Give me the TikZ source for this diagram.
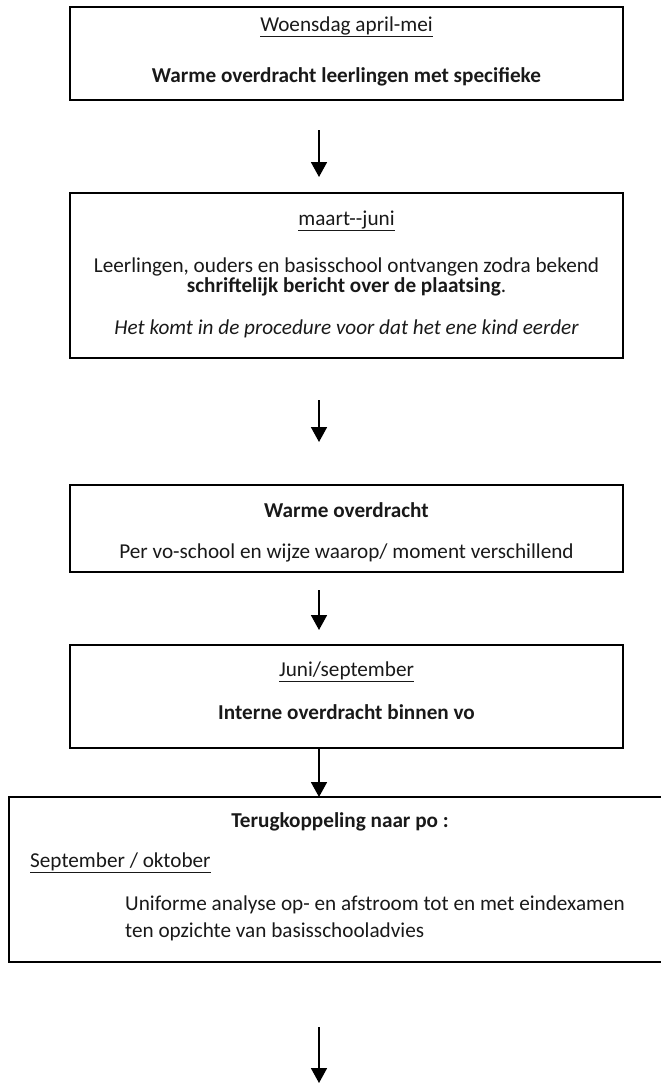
\documentclass[tikz,border=0pt]{standalone}
\usepackage{fontspec}
\setmainfont{Carlito}
\usetikzlibrary{arrows.meta}
\newcommand\myul[1]{\underline{#1}}
\begin{document}
\begin{tikzpicture}[x=1pt,y=-1pt,
  box/.style={draw=black, line width=1.8pt, inner sep=0pt, outer sep=0pt},
  txt/.style={inner sep=0pt, anchor=base, text=black!90, font=\fontsize{21.2}{26}\selectfont},
  ltxt/.style={txt, anchor=base west},
  arr/.style={line width=1.8pt, -{Triangle[width=16pt,length=15pt]}}]
\useasboundingbox (0,0) rectangle (661,1084);
% boxes
\node[box, minimum width=553pt, minimum height=93pt] (b1) at (346.5,53.5) {};
\node[box, minimum width=553pt, minimum height=165pt] (b2) at (346.5,275.5) {};
\node[box, minimum width=553pt, minimum height=87pt] (b3) at (346.5,528.5) {};
\node[box, minimum width=553pt, minimum height=103pt] (b4) at (346.5,696.5) {};
\node[box, minimum width=671pt, minimum height=165pt] (b5) at (344.5,879.5) {};
% texts box 1
\node[txt] (t11) at (346.5,31) {\myul{Woensdag april-mei}};
\node[txt] (t12) at (346.5,82) {\textbf{Warme overdracht leerlingen met specifieke}};
% texts box 2
\node[txt] (t21) at (346.5,225) {\myul{maart-{}-juni}};
\node[txt] (t22) at (346.5,272) {Leerlingen, ouders en basisschool ontvangen zodra bekend};
\node[txt] (t23) at (346.5,292) {\textbf{schriftelijk bericht over de plaatsing}.};
\node[txt] (t24) at (346.5,334) {\itshape Het komt in de procedure voor dat het ene kind eerder};
% texts box 3
\node[txt] (t31) at (346.5,517) {\textbf{Warme overdracht}};
\node[txt] (t32) at (346.5,558) {Per vo-school en wijze waarop/ moment verschillend};
% texts box 4
\node[txt] (t41) at (346.5,676) {\myul{Juni/september}};
\node[txt] (t42) at (346.5,719) {\textbf{Interne overdracht binnen vo}};
% texts box 5
\node[txt] (t51) at (340,827) {\textbf{Terugkoppeling naar po :}};
\node[ltxt] (t52) at (30,867) {\myul{September / oktober}};
\node[ltxt] (t53) at (125,910) {Uniforme analyse op- en afstroom tot en met eindexamen};
\node[ltxt] (t54) at (125,937) {ten opzichte van basisschooladvies};
% arrows
\coordinate (a1s) at (319,130); \coordinate (a1e) at (319,177);
\coordinate (a2s) at (319,400); \coordinate (a2e) at (319,442);
\coordinate (a3s) at (319,590); \coordinate (a3e) at (319,630);
\coordinate (a5s) at (319,1027); \coordinate (a5e) at (319,1083);
\draw[arr] (a1s) -- (a1e);
\draw[arr] (a2s) -- (a2e);
\draw[arr] (a3s) -- (a3e);
\draw[arr] (b4.south -| a1s) -- (b5.north -| a1s);
\draw[arr] (a5s) -- (a5e);
\end{tikzpicture}
\end{document}
